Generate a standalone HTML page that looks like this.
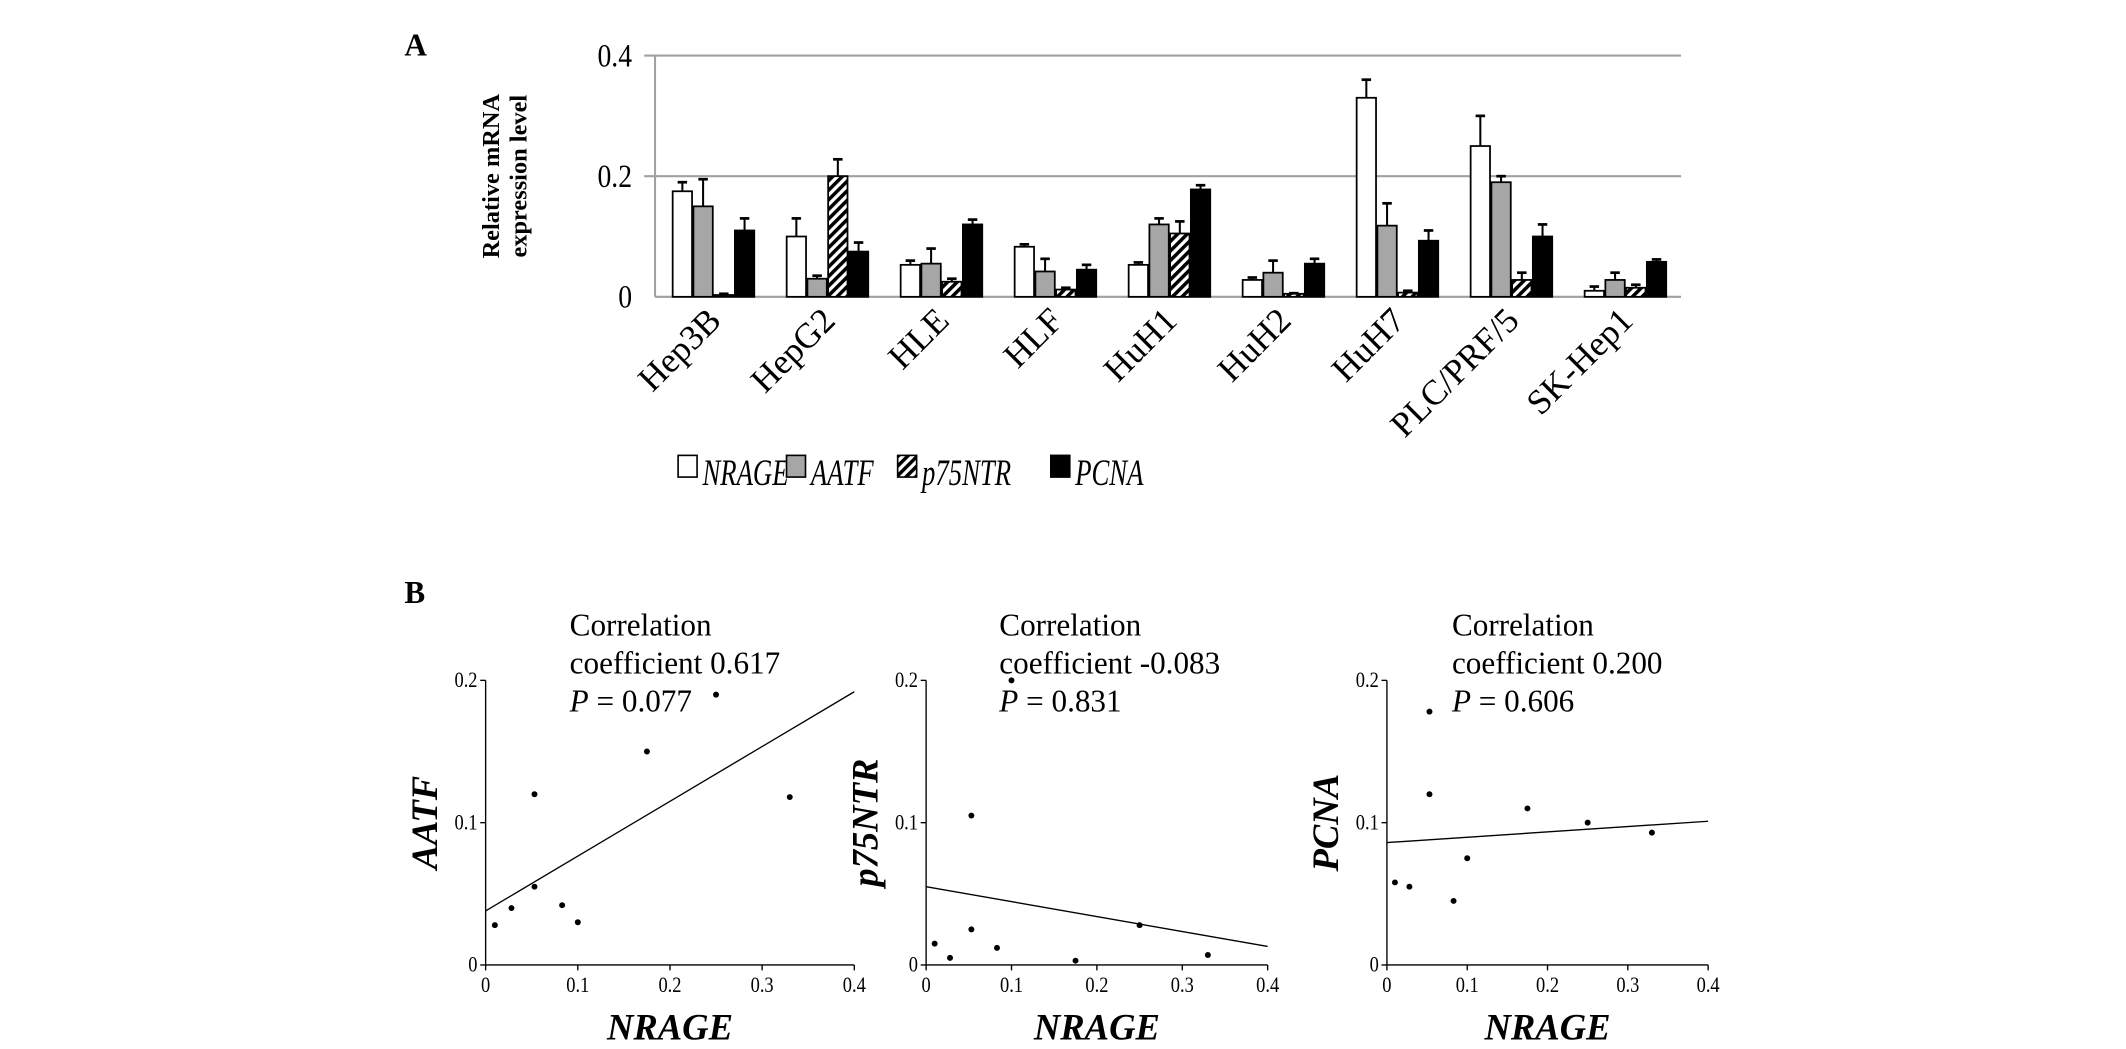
<!DOCTYPE html>
<html><head><meta charset="utf-8"><style>
html,body{margin:0;padding:0;background:#fff;}
svg{display:block;font-family:"Liberation Serif",serif;}
</style></head><body>
<svg id="fig" width="2126" height="1049" viewBox="0 0 1568 774" xmlns="http://www.w3.org/2000/svg">
<defs>
<pattern id="hatch" patternUnits="userSpaceOnUse" width="5" height="5" patternTransform="rotate(45)">
<rect width="5" height="5" fill="#fff"/><rect width="2.6" height="5" fill="#000"/>
</pattern>
</defs>
<text x="298" y="41" font-size="23" font-weight="bold">A</text>
<text x="298" y="445" font-size="23" font-weight="bold">B</text>
<g id="bar"></g>
<g id="legend"></g>
<g id="sc"></g>
</svg>
<script>
const categories=["Hep3B","HepG2","HLE","HLF","HuH1","HuH2","HuH7","PLC/PRF/5","SK-Hep1"];
const seriesNames=["NRAGE","AATF","p75NTR","PCNA"];
const nrage=[0.175,0.10,0.053,0.083,0.053,0.028,0.33,0.25,0.01];
const nrageErr=[0.015,0.03,0.007,0.004,0.004,0.004,0.03,0.05,0.007];
const aatf=[0.15,0.03,0.055,0.042,0.12,0.04,0.118,0.19,0.028];
const aatfErr=[0.045,0.005,0.025,0.021,0.01,0.02,0.037,0.01,0.012];
const p75=[0.003,0.20,0.025,0.012,0.105,0.005,0.007,0.028,0.015];
const p75Err=[0.002,0.028,0.005,0.003,0.02,0.001,0.003,0.012,0.005];
const pcna=[0.11,0.075,0.12,0.045,0.178,0.055,0.093,0.10,0.058];
const pcnaErr=[0.02,0.015,0.008,0.008,0.007,0.008,0.017,0.02,0.004];
const yTicks=[0,0.2,0.4];
const yTickLabels=["0","0.2","0.4"];
const scatterTicksX=[0,0.1,0.2,0.3,0.4];
const scatterTickLabelsX=["0","0.1","0.2","0.3","0.4"];
const scatterTicksY=[0,0.1,0.2];
const scatterTickLabelsY=["0","0.1","0.2"];
const fitAATF=[0.038,0.192];
const fitP75=[0.055,0.013];
const fitPCNA=[0.086,0.101];
const ns="http://www.w3.org/2000/svg";
function mk(p,t,a,txt){const e=document.createElementNS(ns,t);for(const k in a)e.setAttribute(k,a[k]);if(txt!==undefined)e.textContent=txt;p.appendChild(e);return e;}
// bar chart
const bar=document.getElementById('bar');
const X0=483,X1=1240,Y0=219,Y4=41;
const yS=v=>Y0-(v/0.4)*(Y0-Y4);
const cw=(X1-X0)/categories.length;
yTicks.forEach((t,i)=>{
 if(t>0){const g=mk(bar,'line',{x1:475,x2:X1,y1:yS(t),y2:yS(t),stroke:'#a0a0a0','stroke-width':1.5});
 
 }
 const l=mk(bar,'text',{transform:`translate(466,${yS(t)+8}) scale(0.85,1)`,'font-size':24,'text-anchor':'end'},yTickLabels[i]);
 
 
});
mk(bar,'line',{x1:X0,x2:X0,y1:Y4,y2:Y0,stroke:'#a0a0a0','stroke-width':1.5});
mk(bar,'line',{x1:X0,x2:X1,y1:Y0,y2:Y0,stroke:'#a0a0a0','stroke-width':1.5});
const yt=mk(bar,'text',{transform:'translate(368,130) rotate(-90)','font-size':18,'font-weight':'bold','text-anchor':'middle'},'Relative mRNA');


mk(bar,'text',{transform:'translate(388,130) rotate(-90)','font-size':18,'font-weight':'bold','text-anchor':'middle'},'expression level');
const vals=[nrage,aatf,p75,pcna],errs=[nrageErr,aatfErr,p75Err,pcnaErr];
const fills=['#fff','#a6a6a6','url(#hatch)','#000'];
const bw=14.3;
categories.forEach((c,i)=>{
 const cs=X0+cw*i;
 vals.forEach((s,j)=>{
  const x=cs+13+j*(bw+1), top=yS(s[i]), et=yS(s[i]+errs[j][i]);
  mk(bar,'line',{x1:x+bw/2,x2:x+bw/2,y1:et,y2:top,stroke:'#000','stroke-width':1.5});
  mk(bar,'line',{x1:x+bw/2-3.5,x2:x+bw/2+3.5,y1:et,y2:et,stroke:'#000','stroke-width':2});
  const r=mk(bar,'rect',{x:x,y:top,width:bw,height:Y0-top,fill:fills[j],stroke:'#000','stroke-width':1.3});
  
  
 });
 const cx=cs+cw/2+8;
 const t=mk(bar,'text',{transform:`translate(${cx},238) rotate(-45)`,'font-size':26,'text-anchor':'end'},c);
 
 
});
// legend
const lg=document.getElementById('legend');
const lx=[500,580,662,775];
seriesNames.forEach((n,j)=>{
 const b=mk(lg,'rect',{x:lx[j],y:336,width:14,height:16,fill:fills[j],stroke:'#000','stroke-width':1.2});
 
 
 const t=mk(lg,'text',{transform:`translate(${lx[j]+18},358) scale(0.73,1)`,'font-size':27,'font-style':'italic'},n);
 
 
});
// scatter
const sc=document.getElementById('sc');
const panels=[
 {ax:358,ar:630,ys:aatf,fit:fitAATF,lab:'AATF',tx:420,txt:['Correlation','coefficient 0.617','0.077']},
 {ax:683,ar:935,ys:p75,fit:fitP75,lab:'p75NTR',tx:737,txt:['Correlation','coefficient -0.083','0.831']},
 {ax:1023,ar:1260,ys:pcna,fit:fitPCNA,lab:'PCNA',tx:1071,txt:['Correlation','coefficient 0.200','0.606']}
];
const SY0=712,SY2=502;
panels.forEach((p,k)=>{
 const g=mk(sc,'g',{});
 
 
 const xs=v=>p.ax+v/0.4*(p.ar-p.ax), ys=v=>SY0-v/0.2*(SY0-SY2);
 mk(g,'line',{x1:p.ax,x2:p.ax,y1:SY2,y2:SY0,stroke:'#000','stroke-width':1});
 mk(g,'line',{x1:p.ax,x2:p.ar,y1:SY0,y2:SY0,stroke:'#000','stroke-width':1});
 scatterTicksY.forEach((t,i)=>{
  mk(g,'line',{x1:p.ax-4,x2:p.ax,y1:ys(t),y2:ys(t),stroke:'#000'});
  mk(g,'text',{transform:`translate(${p.ax-6},${ys(t)+5}) scale(0.85,1)`,'font-size':16,'text-anchor':'end'},scatterTickLabelsY[i]);
 });
 scatterTicksX.forEach((t,i)=>{
  mk(g,'line',{x1:xs(t),x2:xs(t),y1:SY0,y2:SY0+4,stroke:'#000'});
  mk(g,'text',{transform:`translate(${xs(t)},${SY0+20}) scale(0.85,1)`,'font-size':16,'text-anchor':'middle'},scatterTickLabelsX[i]);
 });
 nrage.forEach((v,i)=>{
  const d=mk(g,'circle',{cx:xs(v),cy:ys(p.ys[i]),r:2.2,fill:'#000'});
  
  
 });
 const fl=mk(g,'line',{x1:xs(0),y1:ys(p.fit[0]),x2:xs(0.4),y2:ys(p.fit[1]),stroke:'#000','stroke-width':1});
 
 
 const xl=mk(g,'text',{x:(p.ax+p.ar)/2,y:767,'font-size':27,'font-style':'italic','font-weight':'bold','text-anchor':'middle'},'NRAGE');
 
 
 const yl=mk(g,'text',{transform:`translate(${p.ax-36},607) rotate(-90)`,'font-size':27,'font-style':'italic','font-weight':'bold','text-anchor':'middle'},p.lab);
 
 
 const a=mk(g,'text',{x:p.tx,y:469,'font-size':23},p.txt[0]);
 
 
 mk(g,'text',{x:p.tx,y:497,'font-size':23},p.txt[1]);
 const t3=mk(g,'text',{x:p.tx,y:525,'font-size':23});
 mk(t3,'tspan',{'font-style':'italic'},'P');
 mk(t3,'tspan',{},' = '+p.txt[2]);
});
</script>
</body></html>
